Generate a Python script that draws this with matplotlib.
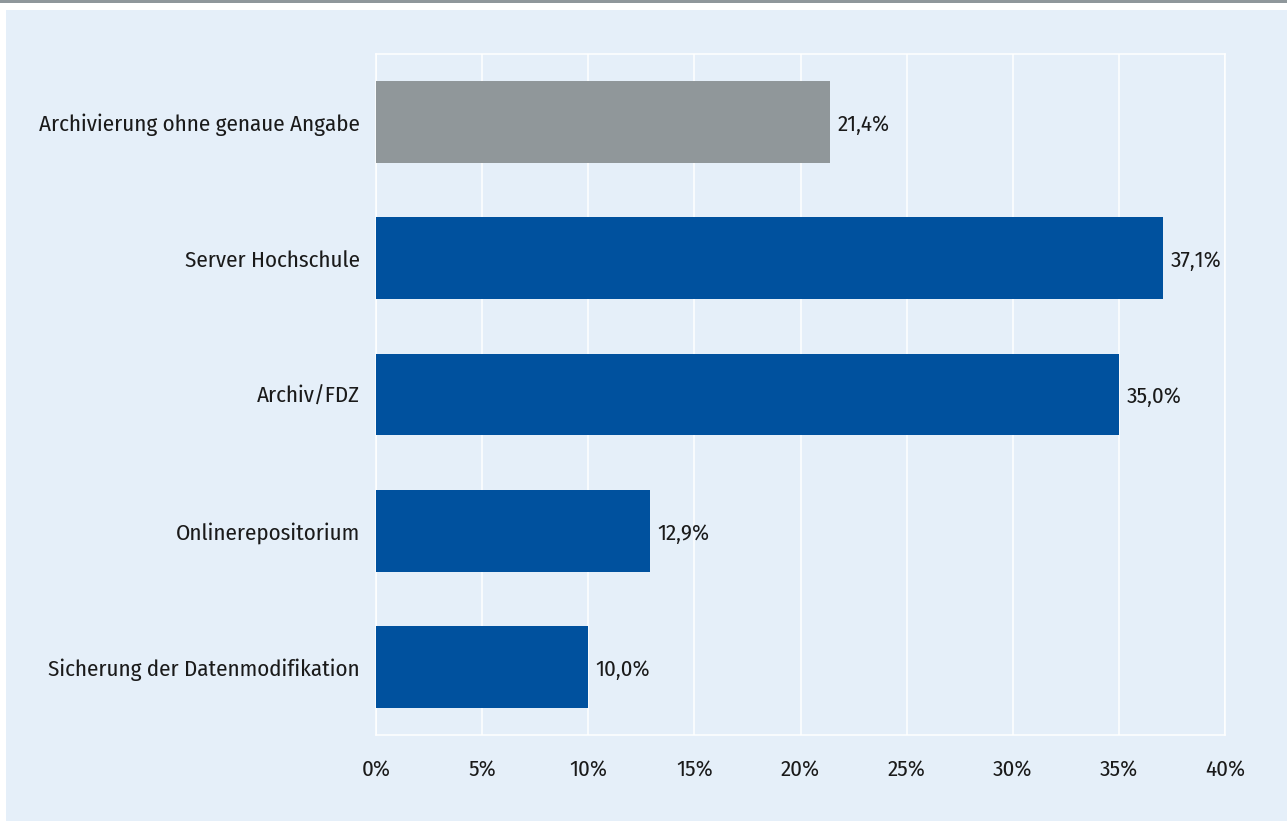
import matplotlib
matplotlib.use('Agg')
import matplotlib.pyplot as plt
from matplotlib.patches import Rectangle

# Daten
categories = ['Archivierung ohne genaue Angabe', 'Server Hochschule', 'Archiv/FDZ',
              'Onlinerepositorium', 'Sicherung der Datenmodifikation']
values = [21.4, 37.1, 35.0, 12.9, 10.0]
bar_colors = ['#90979a', '#00519e', '#00519e', '#00519e', '#00519e']
xticks = [0, 5, 10, 15, 20, 25, 30, 35, 40]

plt.rcParams['font.family'] = ['Fira Sans Condensed', 'DejaVu Sans']
FS = 16.5

W, H = 1287, 821
fig = plt.figure(figsize=(W / 100, H / 100), dpi=100)
fig.patch.set_facecolor('white')

# Hintergrund und obere Linie
fig.patches.append(Rectangle((6 / W, 0), 1 - 6 / W, 1 - 10 / H, transform=fig.transFigure,
                             facecolor='#e5eff9', edgecolor='none', zorder=-10))
fig.patches.append(Rectangle((0, 1 - 3 / H), 1, 3 / H, transform=fig.transFigure,
                             facecolor='#8f979b', edgecolor='none', zorder=-10))

left, right, top, bottom = 376, 1225, 54, 735
ax = fig.add_axes([left / W, 1 - bottom / H, (right - left) / W, (bottom - top) / H])
ax.set_facecolor('none')

y = list(range(len(categories)))
ax.barh(y, values, height=0.6, color=bar_colors, zorder=3)
for yi, v in zip(y, values):
    ax.text(v + 0.35, yi + 0.02, f'{v:.1f}'.replace('.', ',') + '%', va='center', ha='left',
            fontsize=FS, color='#1a1a1a', zorder=4)

ax.set_xlim(0, 40)
ax.set_ylim(len(categories) - 0.5, -0.5)
ax.set_xticks(xticks)
ax.set_xticklabels([f'{t}%' for t in xticks], fontsize=FS, color='#1a1a1a')
ax.set_yticks(y)
ax.set_yticklabels(categories, fontsize=FS, color='#1a1a1a')
ax.tick_params(axis='both', length=0)
ax.tick_params(axis='x', pad=17)
ax.tick_params(axis='y', pad=11.5)
ax.grid(axis='x', color='white', linewidth=1.1, zorder=1)
for s in ax.spines.values():
    s.set_color('white')
    s.set_linewidth(1.1)
    s.set_zorder(1)

fig.savefig('out.png', dpi=100, facecolor=fig.get_facecolor())
